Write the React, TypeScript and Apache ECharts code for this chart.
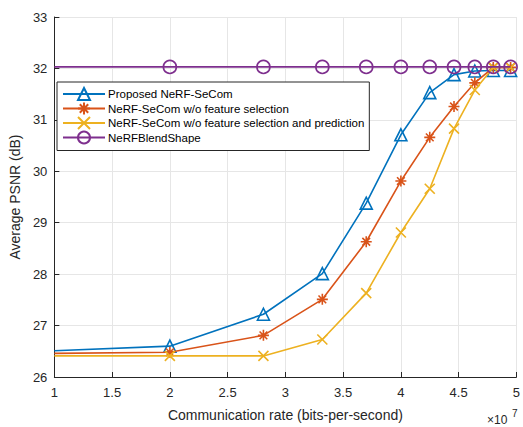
import React, { useEffect, useRef } from "react";
import * as echarts from "echarts";

const seriesNames = [
  "Proposed NeRF-SeCom",
  "NeRF-SeCom w/o feature selection",
  "NeRF-SeCom w/o feature selection and prediction",
  "NeRFBlendShape",
];
const rates = [1.0, 2.0, 2.81, 3.32, 3.7, 4.0, 4.25, 4.46, 4.64, 4.8, 4.95];
const proposed = [26.51, 26.6, 27.22, 28.01, 29.38, 30.71, 31.53, 31.88, 31.95, 31.96, 31.96];
const noSelection = [26.46, 26.48, 26.81, 27.51, 28.63, 29.81, 30.66, 31.26, 31.72, 32.02, 32.02];
const noSelectionPrediction = [26.41, 26.41, 26.41, 26.73, 27.63, 28.81, 29.66, 30.83, 31.58, 32.02, 32.02];
const blendShape = [32.03, 32.03, 32.03, 32.03, 32.03, 32.03, 32.03, 32.03, 32.03, 32.03, 32.03];
const xTicks = { min: 1, max: 5, interval: 0.5 };
const yTicks = { min: 26, max: 33, interval: 1 };

const colors = ["#0072BD", "#D95319", "#EDB120", "#7E2F8E"];
const TXT = "#262626";
const FONT = "Liberation Sans, Arial, Helvetica, sans-serif";

const asterisk =
  "path://M5,0L5,10M0,5L10,5M1.5,1.5L8.5,8.5M8.5,1.5L1.5,8.5";
const cross = "path://M0,0L10,10M10,0L0,10";

export default function App() {
  const ref = useRef<HTMLDivElement>(null);
  useEffect(() => {
    if (!ref.current) return;
    const chart = echarts.init(ref.current, undefined, { renderer: "svg" });
    const allValues = [proposed, noSelection, noSelectionPrediction, blendShape];
    const symbols = ["triangle", asterisk, cross, "circle"];
    const sizes = [12, 11, 10, 13];
    const series = allValues.map((vals, si) => ({
      name: seriesNames[si],
      type: "line",
      symbol: symbols[si],
      symbolSize: sizes[si],
      showAllSymbol: true,
      clip: false,
      lineStyle: { color: colors[si], width: 1.6 },
      itemStyle: {
        color: si === 0 || si === 3 ? "rgba(0,0,0,0)" : colors[si],
        borderColor: colors[si],
        borderWidth: 1.6,
      },
      emphasis: { disabled: true },
      data: vals.map((v, i) =>
        i === 0 ? { value: [rates[i], v], symbol: "none" } : { value: [rates[i], v] }
      ),
      z: 2 + si,
    }));
    chart.setOption({
      animation: false,
      textStyle: { fontFamily: FONT },
      grid: { left: 52, right: 4, top: 17, bottom: 42, containLabel: false },
      legend: {
        orient: "vertical",
        left: 57,
        top: 82,
        padding: [5, 5, 6, 5],
        itemWidth: 42,
        itemHeight: 15,
        itemGap: 0.5,
        backgroundColor: "#fff",
        borderColor: TXT,
        borderWidth: 1,
        borderRadius: 0,
        textStyle: { fontSize: 11.5, color: "#000", fontFamily: FONT, padding: [0, 0, 0, -2] },
        data: seriesNames,
      },
      xAxis: {
        type: "value",
        min: xTicks.min,
        max: xTicks.max,
        interval: xTicks.interval,
        name: "Communication rate (bits-per-second)",
        nameLocation: "middle",
        nameGap: 31,
        nameTextStyle: { fontSize: 14, color: TXT, fontFamily: FONT },
        axisLine: { lineStyle: { color: TXT, width: 1 } },
        axisTick: { inside: true, length: 5, lineStyle: { color: TXT } },
        axisLabel: { fontSize: 13, color: TXT, margin: 9, fontFamily: FONT },
        splitLine: { show: true, lineStyle: { color: "#E6E6E6", width: 1 } },
      },
      yAxis: {
        type: "value",
        min: yTicks.min,
        max: yTicks.max,
        interval: yTicks.interval,
        name: "Average PSNR (dB)",
        nameLocation: "middle",
        nameGap: 28,
        nameTextStyle: { fontSize: 14, color: TXT, fontFamily: FONT },
        axisLine: { show: true, lineStyle: { color: TXT, width: 1 } },
        axisTick: { show: true, inside: true, length: 5, lineStyle: { color: TXT } },
        axisLabel: { fontSize: 13, color: TXT, margin: 7, fontFamily: FONT },
        splitLine: { show: true, lineStyle: { color: "#E6E6E6", width: 1 } },
      },
      graphic: [
        {
          type: "text",
          left: 487,
          top: 414,
          style: { text: "×10", fontSize: 12, fill: TXT, fontFamily: FONT },
        },
        {
          type: "text",
          left: 512,
          top: 408,
          style: { text: "7", fontSize: 10, fill: TXT, fontFamily: FONT },
        },
      ],
      series,
    });
    return () => chart.dispose();
  }, []);
  return (
    <div
      ref={ref}
      style={{ position: "fixed", left: 0, top: 0, width: 523, height: 427, background: "#fff" }}
    />
  );
}
